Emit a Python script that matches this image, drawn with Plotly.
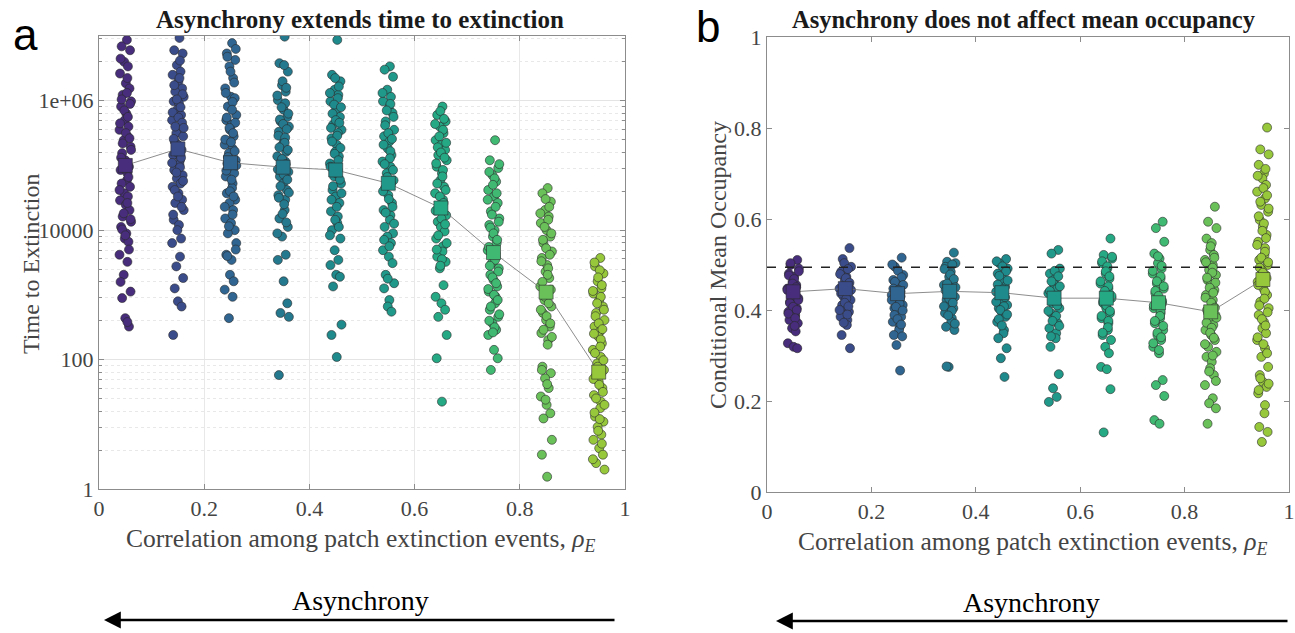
import plotly.graph_objects as go

# ---------------- data ----------------
RHO = [0.05, 0.15, 0.25, 0.35, 0.45, 0.55, 0.65, 0.75, 0.85, 0.95]

# log10(time to extinction) for each simulated run, per correlation group
LOG_T = [
    [6.94,6.84,6.78,6.60,6.53,6.42,6.27,6.19,6.09,5.99,5.91,5.80,5.70,5.60,5.55,5.45,5.39,5.29,5.19,5.08,4.98,4.93,4.88,4.77,4.72,4.67,4.57,4.52,4.46,4.39,4.31,4.21,4.13,4.05,3.95,3.87,3.82,3.62,3.51,3.31,3.05,2.95,2.64,2.51,
     6.65,6.35,6.12,6.02,5.95,5.85,5.75,5.65,5.50,5.42,5.34,5.24,5.12,5.03,4.95,4.82,4.62,4.42,4.26,4.17,4.01,3.92,3.70,3.20,2.58],
    [6.97,6.78,6.73,6.55,6.45,6.40,6.30,6.19,6.14,6.06,5.99,5.96,5.86,5.78,5.70,5.55,5.50,5.45,5.37,5.32,5.24,5.16,5.08,5.01,4.93,4.85,4.80,4.72,4.67,4.57,4.47,4.42,4.31,4.16,4.08,4.00,3.87,3.80,3.59,3.44,3.26,3.10,2.90,2.82,2.38,
     6.62,6.35,6.24,6.10,6.02,5.90,5.82,5.74,5.66,5.60,5.58,5.41,5.28,5.20,5.12,5.04,4.97,4.89,4.76,4.62,4.52,4.36,4.24],
    [6.89,6.73,6.63,6.53,6.35,6.19,6.06,6.04,5.91,5.78,5.70,5.63,5.55,5.45,5.32,5.26,5.19,5.08,5.03,4.96,4.88,4.83,4.72,4.65,4.57,4.47,4.42,4.31,4.18,4.11,4.00,3.95,3.80,3.62,3.54,3.31,3.21,3.08,2.97,2.64,
     6.80,6.68,6.45,6.28,6.12,5.98,5.86,5.74,5.66,5.58,5.50,5.40,5.36,5.22,5.13,5.00,4.92,4.78,4.60,4.52,4.36,4.24,4.06,3.70,3.60],
    [6.99,6.58,6.45,6.24,6.14,6.01,5.86,5.75,5.68,5.60,5.52,5.39,5.32,5.21,5.14,5.06,4.98,4.90,4.83,4.72,4.62,4.54,4.47,4.31,4.18,4.05,3.90,3.62,3.54,3.21,2.87,2.72,2.66,1.76,
     6.55,6.30,6.20,6.08,5.96,5.90,5.80,5.71,5.64,5.56,5.46,5.43,5.35,5.28,5.24,5.10,5.02,4.94,4.86,4.78,4.68,4.58,4.50,4.40,4.25,4.12,3.95],
    [6.94,6.40,6.30,6.17,6.09,5.99,5.86,5.75,5.63,5.55,5.42,5.32,5.21,5.14,5.03,4.93,4.83,4.72,4.62,4.52,4.42,4.29,4.21,4.11,4.00,3.87,3.69,3.54,3.46,3.31,3.28,3.13,2.54,2.38,2.04,
     6.35,6.22,6.12,6.04,5.94,5.90,5.80,5.70,5.66,5.58,5.50,5.46,5.37,5.27,5.18,5.08,4.98,4.88,4.78,4.68,4.57,4.47,4.36,4.16,4.05,3.92],
    [6.53,6.48,6.37,6.17,6.06,5.99,5.88,5.81,5.68,5.55,5.45,5.37,5.26,5.16,5.06,4.98,4.88,4.77,4.65,4.54,4.42,4.31,4.23,4.16,4.05,3.95,3.90,3.80,3.69,3.59,3.49,3.31,3.18,3.10,2.92,2.82,2.74,
     6.12,5.95,5.85,5.75,5.62,5.50,5.41,5.32,5.22,5.11,5.02,4.93,4.82,4.72,4.60,4.48,4.36,4.27,4.10,3.85,3.75,3.25],
    [5.91,5.78,5.68,5.60,5.50,5.39,5.32,5.24,5.16,5.08,4.98,4.88,4.77,4.67,4.57,4.47,4.36,4.23,4.13,4.05,3.98,3.87,3.75,3.67,3.59,3.51,3.41,3.15,2.97,2.87,2.77,2.66,2.38,2.02,1.35,
     5.84,5.72,5.64,5.55,5.45,5.35,5.28,5.20,5.12,5.03,4.93,4.83,4.72,4.62,4.52,4.42,4.30,4.18,4.09,3.92,3.80,3.70,3.55,3.45],
    [5.39,5.08,4.96,4.85,4.75,4.62,4.52,4.42,4.29,4.18,4.08,4.00,3.90,3.80,3.69,3.59,3.49,3.41,3.31,3.23,3.13,3.05,2.97,2.87,2.77,2.66,2.56,2.46,2.38,2.15,2.02,1.84,
     5.02,4.90,4.80,4.70,4.57,4.47,4.36,4.24,4.13,4.04,3.95,3.85,3.74,3.64,3.54,3.45,3.36,3.27,3.18,3.09,3.00,2.92,2.82,2.70,2.60,2.50,2.42],
    [4.65,4.57,4.44,4.31,4.21,4.11,4.00,3.90,3.80,3.67,3.57,3.46,3.36,3.26,3.13,3.02,2.92,2.82,2.72,2.61,2.51,2.41,2.30,2.23,1.89,1.79,1.71,1.56,1.43,1.30,1.17,1.09,0.76,0.53,0.19,
     4.48,4.36,4.26,4.16,4.05,3.95,3.85,3.72,3.62,3.52,3.41,3.31,3.20,3.08,2.97,2.87,2.77,2.67,2.56,2.46,2.35,1.84,1.62,1.38],
    [3.57,3.44,3.33,3.21,3.10,3.02,2.92,2.82,2.72,2.61,2.51,2.43,2.36,2.25,2.15,2.04,1.94,1.84,1.74,1.66,1.56,1.45,1.35,1.25,1.12,1.04,0.96,0.84,0.76,0.63,0.53,0.40,0.30,
     3.50,3.38,3.27,3.15,3.06,2.97,2.87,2.77,2.67,2.56,2.47,2.40,2.31,2.20,2.10,1.99,1.89,1.79,1.70,1.61,1.50,1.40,1.30,1.18,1.08,0.90,0.70,0.46],
]
MEAN_T = [1.0e5, 1.8e5, 1.1e5, 9.4e4, 8.5e4, 5.3e4, 2.2e4, 4.5e3, 1.1e3, 64]

OCC = [
    [0.510,0.499,0.491,0.480,0.473,0.462,0.455,0.447,0.440,0.433,0.426,0.418,0.411,0.404,0.396,0.389,0.386,0.378,0.371,0.360,0.353,0.327,0.319,0.316,
     0.503,0.485,0.476,0.468,0.458,0.450,0.444,0.437,0.430,0.422,0.415,0.407,0.400,0.392,0.382,0.365],
    [0.536,0.512,0.495,0.484,0.473,0.466,0.455,0.447,0.440,0.429,0.422,0.411,0.404,0.396,0.385,0.378,0.367,0.345,0.316,
     0.503,0.490,0.479,0.470,0.460,0.451,0.444,0.436,0.425,0.416,0.408,0.400,0.390,0.372],
    [0.515,0.495,0.477,0.466,0.459,0.451,0.440,0.433,0.426,0.418,0.411,0.404,0.393,0.385,0.374,0.363,0.356,0.345,0.342,0.323,0.267,
     0.500,0.486,0.472,0.462,0.455,0.447,0.444,0.436,0.430,0.422,0.414,0.407,0.399,0.389,0.380,0.368],
    [0.526,0.506,0.503,0.495,0.484,0.473,0.462,0.455,0.447,0.437,0.429,0.422,0.411,0.404,0.393,0.382,0.374,0.363,0.356,0.275,
     0.500,0.490,0.478,0.468,0.458,0.450,0.443,0.433,0.425,0.416,0.408,0.398,0.388,0.370,0.276],
    [0.512,0.503,0.491,0.480,0.469,0.462,0.451,0.440,0.433,0.422,0.411,0.404,0.396,0.385,0.374,0.356,0.349,0.338,0.316,0.294,0.253,
     0.507,0.496,0.485,0.475,0.465,0.456,0.446,0.436,0.428,0.418,0.408,0.400,0.390,0.380,0.366],
    [0.532,0.524,0.491,0.480,0.469,0.458,0.447,0.437,0.426,0.415,0.404,0.393,0.382,0.371,0.360,0.349,0.338,0.319,0.259,0.228,0.209,0.198,
     0.486,0.474,0.463,0.452,0.442,0.431,0.420,0.410,0.398,0.387,0.376,0.365,0.342],
    [0.557,0.521,0.513,0.503,0.491,0.480,0.469,0.458,0.447,0.437,0.426,0.415,0.404,0.393,0.382,0.371,0.356,0.345,0.334,0.319,0.305,0.275,0.270,0.226,0.131,
     0.517,0.507,0.496,0.485,0.474,0.463,0.452,0.442,0.431,0.420,0.410,0.398,0.387,0.376,0.362,0.350],
    [0.594,0.580,0.550,0.524,0.513,0.503,0.491,0.480,0.469,0.458,0.447,0.437,0.426,0.415,0.404,0.393,0.382,0.371,0.356,0.345,0.334,0.319,0.305,0.246,0.235,0.211,0.158,0.150,
     0.518,0.497,0.486,0.474,0.463,0.452,0.442,0.431,0.420,0.410,0.398,0.387,0.376,0.365,0.350,0.340,0.327,0.312],
    [0.627,0.594,0.580,0.557,0.547,0.532,0.521,0.510,0.499,0.488,0.477,0.466,0.455,0.444,0.433,0.422,0.411,0.400,0.389,0.378,0.367,0.356,0.345,0.334,0.319,0.308,0.297,0.286,0.272,0.257,0.235,0.206,0.195,0.184,0.150,
     0.540,0.515,0.505,0.493,0.482,0.471,0.460,0.449,0.438,0.427,0.416,0.405,0.394,0.383,0.372,0.361,0.350,0.339,0.325,0.300,0.265,0.244],
    [0.801,0.753,0.742,0.719,0.700,0.689,0.675,0.660,0.645,0.631,0.616,0.598,0.583,0.565,0.550,0.536,0.521,0.510,0.499,0.488,0.477,0.462,0.447,0.433,0.418,0.404,0.389,0.374,0.360,0.349,0.334,0.316,0.297,0.275,0.257,0.242,0.231,0.217,0.191,0.173,0.143,0.132,0.110,
     0.710,0.695,0.668,0.652,0.638,0.623,0.606,0.590,0.574,0.558,0.543,0.528,0.515,0.505,0.493,0.482,0.470,0.455,0.440,0.425,0.410,0.395,0.380,0.366,0.340,0.325,0.305,0.250,0.238,0.224],
]
MEAN_OCC = [0.440, 0.447, 0.436, 0.441, 0.438, 0.426, 0.426, 0.416, 0.396, 0.467]
REF_OCC = 0.494

X_TICKS = [0, 0.2, 0.4, 0.6, 0.8, 1]
X_TICKTEXT = ["0", "0.2", "0.4", "0.6", "0.8", "1"]
T_TICKS = [1, 100, 10000, 1e6]
T_TICKTEXT = ["1", "100", "10000", "1e+06"]
OCC_TICKS = [0, 0.2, 0.4, 0.6, 0.8, 1]
OCC_TICKTEXT = ["0", "0.2", "0.4", "0.6", "0.8", "1"]

# ---------------- style ----------------
COLORS = ['#472d7b', '#3b4c8b', '#2f6590', '#25798e', '#1f8a8c',
          '#20988a', '#25a884', '#40b972', '#6ac15a', '#97c83c']
JIT = [0.003, -0.007, 0.009, -0.002, 0.005, -0.010, 0.001, 0.008, -0.005, 0.011,
       -0.008, 0.002, -0.001, 0.006, -0.011, 0.004, -0.003, 0.010, -0.006, 0.000,
       0.007, -0.009, 0.004]
W, H = 1295, 633
SERIF = "Liberation Serif"
AX = '#8c8c8c'
TXT = '#444444'


def px(x):
    return x / W


def py(y):
    return 1 - y / H


fig = go.Figure()

for i, r in enumerate(RHO):
    vals = LOG_T[i]
    xs = [r + JIT[k % len(JIT)] for k in range(len(vals))]
    fig.add_trace(go.Scatter(
        x=xs, y=[10 ** v for v in vals], mode='markers', xaxis='x', yaxis='y',
        marker=dict(size=9, color=COLORS[i], line=dict(color='#2a2a2a', width=0.6)),
        showlegend=False, hoverinfo='skip'))
    vals2 = OCC[i]
    xs2 = [r + JIT[(k + 7) % len(JIT)] for k in range(len(vals2))]
    fig.add_trace(go.Scatter(
        x=xs2, y=vals2, mode='markers', xaxis='x2', yaxis='y2',
        marker=dict(size=9, color=COLORS[i], line=dict(color='#2a2a2a', width=0.6)),
        showlegend=False, hoverinfo='skip'))

# mean lines
fig.add_trace(go.Scatter(x=RHO, y=MEAN_T, mode='lines', xaxis='x', yaxis='y',
                         line=dict(color='#707070', width=0.8), showlegend=False))
fig.add_trace(go.Scatter(x=RHO, y=MEAN_OCC, mode='lines', xaxis='x2', yaxis='y2',
                         line=dict(color='#707070', width=0.8), showlegend=False))
# reference dashed line
fig.add_trace(go.Scatter(x=[0, 1], y=[REF_OCC, REF_OCC], mode='lines', xaxis='x2', yaxis='y2',
                         line=dict(color='#222222', width=1.4, dash='dash'), showlegend=False))
# mean squares
fig.add_trace(go.Scatter(x=RHO, y=MEAN_T, mode='markers', xaxis='x', yaxis='y',
                         marker=dict(symbol='square', size=14, color=COLORS,
                                     line=dict(color='#2a2a2a', width=0.6)),
                         showlegend=False))
fig.add_trace(go.Scatter(x=RHO, y=MEAN_OCC, mode='markers', xaxis='x2', yaxis='y2',
                         marker=dict(symbol='square', size=14, color=COLORS,
                                     line=dict(color='#2a2a2a', width=0.6)),
                         showlegend=False))

# minor grid positions for the log axis (MATLAB-style squares within each 2-decade span)
MINOR = []
for m in range(4):
    for k in range(2, 10):
        v = k * k * (100 ** m)
        if v < 1e7:
            MINOR.append(v)

tickfont = dict(family=SERIF, size=22, color=TXT)
common = dict(showline=True, linecolor=AX, linewidth=1, mirror='ticks', ticks='inside',
              tickcolor=AX, ticklen=5, tickfont=tickfont, zeroline=False, automargin=False)

fig.update_layout(
    width=W, height=H, margin=dict(l=0, r=0, t=0, b=0, pad=0), autosize=False,
    paper_bgcolor='white', plot_bgcolor='white',
    xaxis=dict(domain=[px(99), px(625)], range=[0, 1], tickvals=X_TICKS, ticktext=X_TICKTEXT,
               showgrid=True, gridcolor='#e8e8e8', anchor='y', **common),
    yaxis=dict(domain=[py(489), py(36)], type='log', range=[0, 7], tickvals=T_TICKS,
               ticktext=T_TICKTEXT, showgrid=True, gridcolor='#e4e4e4', anchor='x',
               minor=dict(tickvals=MINOR, showgrid=True, griddash='dot', gridcolor='#e8e8e8',
                          ticks='inside', ticklen=3, tickcolor=AX),
               **common),
    xaxis2=dict(domain=[px(767), px(1289)], range=[0, 1], tickvals=X_TICKS, ticktext=X_TICKTEXT,
                showgrid=False, anchor='y2', **common),
    yaxis2=dict(domain=[py(492), py(37)], range=[0, 1], tickvals=OCC_TICKS, ticktext=OCC_TICKTEXT,
                showgrid=False, anchor='x2', **common),
)

ann = []
lab = dict(family=SERIF, size=24, color=TXT)
xlab = dict(family=SERIF, size=25.5, color=TXT)
ann.append(dict(x=px(360), y=py(19), text="<b>Asynchrony extends time to extinction</b>",
                font=dict(family=SERIF, size=25, color='#1a1a1a')))
ann.append(dict(x=px(1024), y=py(19), text="<b>Asynchrony does not affect mean occupancy</b>",
                font=dict(family=SERIF, size=24.5, color='#1a1a1a')))
ann.append(dict(x=px(25), y=py(35), text="a", font=dict(family="Liberation Sans", size=44, color='black')))
ann.append(dict(x=px(708), y=py(27), text="b", font=dict(family="Liberation Sans", size=44, color='black')))
ann.append(dict(x=px(31), y=py(264), text="Time to Extinction", textangle=-90, font=lab))
ann.append(dict(x=px(718), y=py(265), text="Conditional Mean Occupancy", textangle=-90, font=lab))
ann.append(dict(x=px(361), y=py(540),
                text="Correlation among patch extinction events, <i>ρ</i><sub><i>E</i></sub>", font=xlab))
ann.append(dict(x=px(1032), y=py(543),
                text="Correlation among patch extinction events, <i>ρ</i><sub><i>E</i></sub>", font=xlab))
ann.append(dict(x=px(360), y=py(600), text="Asynchrony", font=dict(family=SERIF, size=28, color='black')))
ann.append(dict(x=px(1031), y=py(602), text="Asynchrony", font=dict(family=SERIF, size=28, color='black')))
for a in ann:
    a.update(xref='paper', yref='paper', showarrow=False, xanchor='center', yanchor='middle')

# arrows (tip on the left, tail on the right)
ann.append(dict(x=px(104), y=py(620), ax=512, ay=0, xref='paper', yref='paper', text='',
                showarrow=True, arrowhead=2, arrowsize=1.4, arrowwidth=2.4, arrowcolor='black'))
ann.append(dict(x=px(776), y=py(621), ax=513, ay=0, xref='paper', yref='paper', text='',
                showarrow=True, arrowhead=2, arrowsize=1.4, arrowwidth=2.4, arrowcolor='black'))
fig.update_layout(annotations=ann)

fig.write_html("out.html", config={'displayModeBar': False},
               post_script="document.body.style.margin='0';document.body.style.overflow='hidden';")
